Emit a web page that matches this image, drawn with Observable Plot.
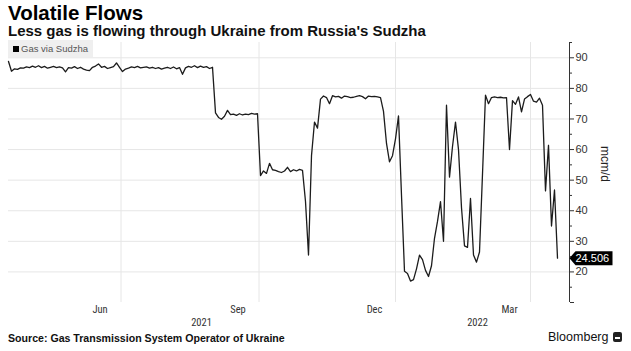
<!DOCTYPE html>
<html>
<head>
<meta charset="utf-8">
<script src="https://cdn.jsdelivr.net/npm/d3@7"></script>
<script src="https://cdn.jsdelivr.net/npm/@observablehq/plot@0.6"></script>
<style>
  body { margin: 0; background: #fff; font-family: "Liberation Sans", Arial, sans-serif; }
  #wrap { position: relative; width: 631px; height: 351px; overflow: hidden; background: #fff; }
  #title { position: absolute; left: 8px; top: 1px; font-weight: bold; font-size: 20.5px; color: #000; line-height: 23px; }
  #subtitle { position: absolute; left: 8px; top: 22px; font-weight: bold; font-size: 15px; color: #111; line-height: 17px; }
  #chart { position: absolute; left: 0; top: 40px; }
  #legend { position: absolute; left: 8px; top: 40px; height: 17px; background: #efefef; font-size: 9.5px; color: #555;
            padding: 0 5px 0 5px; display: flex; align-items: center; }
  #legend .sw { display: inline-block; width: 6px; height: 6px; background: #000; margin-right: 2px; }
  #unit { position: absolute; left: 598px; top: 146px; writing-mode: vertical-rl; font-size: 12px; color: #222; }
  #source { position: absolute; left: 8px; top: 332px; font-weight: bold; font-size: 10.6px; color: #111; }
  #brand { position: absolute; left: 548px; top: 330px; font-size: 12.5px; color: #111; display: flex; align-items: center; }
  #brand .ic { display: inline-block; width: 9px; height: 10px; background: #222; border-radius: 2px; margin-left: 5px; position: relative; }
  #brand .ic::after { content: ""; position: absolute; left: 2px; top: 5px; width: 5px; height: 2px; background: #fff; }
</style>
</head>
<body>
<div id="wrap">
  <div id="title">Volatile Flows</div>
  <div id="subtitle">Less gas is flowing through Ukraine from Russia's Sudzha</div>
  <div id="chart"></div>
  <div id="legend"><span class="sw"></span>Gas via Sudzha</div>
  <div id="unit">mcm/d</div>
  <div id="source">Source: Gas Transmission System Operator of Ukraine</div>
  <div id="brand">Bloomberg<span class="ic"></span></div>
</div>
<script>
// Series: Russian gas flow via Sudzha (mcm/d), one reading every 2 days from 2021-03-18
const seriesStart = "2021-03-18";
const stepDays = 2;
const values = [
  88.8, 85.6, 86.4, 86.2, 86.7, 86.6, 87.0, 86.8, 87.3, 86.9,
  87.4, 86.8, 87.2, 86.6, 86.9, 87.2, 86.8, 87.0, 86.7, 85.4,
  86.8, 86.6, 87.1, 86.5, 86.9, 86.3, 86.0, 85.8, 86.9, 87.3,
  88.0, 86.9, 87.2, 86.5, 86.8, 87.1, 88.3, 86.9, 85.5, 86.3,
  86.6, 87.0, 86.8, 87.2, 86.7, 86.9, 87.0, 86.6, 86.9, 86.5,
  86.8, 86.3, 86.6, 86.9, 86.5, 87.0, 86.4, 86.8, 84.6, 86.7,
  87.2, 86.9, 87.4, 86.8, 87.3, 86.9, 87.1, 86.5, 86.9, 72.0,
  70.5, 69.9, 70.9, 72.8, 71.4, 71.6, 71.2, 71.7, 71.3, 71.6,
  71.4, 71.8, 71.6, 71.7, 51.5, 53.0, 52.2, 55.5, 53.4, 53.2,
  52.8, 52.5, 53.0, 54.2, 52.8, 53.4, 53.0, 53.5, 53.2, 43.0,
  25.5, 58.0, 69.0, 67.0, 76.5, 77.5, 77.0, 75.0, 77.6, 77.2,
  77.4, 76.8, 77.5, 77.3, 77.0, 77.1, 77.4, 77.6, 77.3, 76.6,
  77.5, 77.3, 77.4, 77.2, 77.0, 72.5, 62.0, 56.0, 58.0, 63.5,
  71.0, 45.0, 20.2, 19.5, 17.0, 17.5, 21.0, 25.5, 24.0, 20.5,
  18.5, 22.0, 31.0, 36.5, 43.0, 30.0, 74.5, 51.0, 61.0, 69.0,
  60.0, 41.0, 28.5, 28.0, 44.0, 25.5, 23.2, 26.5, 52.0, 77.8,
  75.0, 77.0, 77.2, 77.0, 77.1, 76.9, 77.0, 60.0, 76.0, 74.8,
  77.2, 72.3, 76.5, 77.3, 78.0, 75.8, 75.5, 76.8, 74.5, 46.5,
  61.4, 35.0, 46.8, 24.506
];
const xDomain = ["2021-03-18", "2022-03-27"];
const monthTicks = ["2021-06-01", "2021-09-01", "2021-12-01", "2022-03-01"];
const monthLabels = ["Jun", "Sep", "Dec", "Mar"];
const yearLabels = ["2021", "2022"];
const yMajorTicks = [10, 20, 30, 40, 50, 60, 70, 80, 90];
const yMinorTicks = [15, 25, 35, 45, 55, 65, 75, 85, 95];
const yGridTicks = [20, 30, 40, 50, 60, 70, 80, 90];

const parse = d3.utcParse("%Y-%m-%d");
const start = parse(seriesStart);
const data = values.map((v, i) => ({ date: d3.utcDay.offset(start, stepDays * i), value: v }));
const xEnd = parse(xDomain[1]);
const last = data[data.length - 1];

// year label centred on each year's span of data
const yearData = yearLabels.map(y => {
  const pts = data.filter(d => d.date.getUTCFullYear() === +y);
  const a = pts[0].date, b = pts[pts.length - 1].date;
  return { label: y, date: new Date((+a + +b) / 2) };
});

const tagSymbol = {
  draw(ctx) {
    ctx.moveTo(0, 0);
    ctx.lineTo(6, -7);
    ctx.lineTo(43, -7);
    ctx.lineTo(43, 7);
    ctx.lineTo(6, 7);
    ctx.closePath();
  }
};

const axisFont = "'Liberation Sans Narrow', 'Roboto Condensed', Roboto, 'Liberation Sans', sans-serif";

const chart = Plot.plot({
  width: 631,
  height: 291,
  marginTop: 2,
  marginBottom: 29,
  marginLeft: 8,
  marginRight: 62,
  style: { background: "transparent", overflow: "visible" },
  x: { type: "utc", domain: [parse(xDomain[0]), xEnd], axis: null },
  y: { domain: [10, 95], axis: null },
  marks: [
    Plot.gridY(yGridTicks, { stroke: "#e6e6e6", strokeOpacity: 1 }),
    Plot.gridX(monthTicks.map(parse), { stroke: "#e6e6e6", strokeOpacity: 1 }),
    Plot.lineY(data, { x: "date", y: "value", stroke: "#1c1c1c", strokeWidth: 1.3 }),
    Plot.ruleX([xEnd], { stroke: "#333", strokeWidth: 1 }),
    Plot.axisY(yMajorTicks, { anchor: "right", label: null, tickSize: 4, tickPadding: 2, fontSize: 11,
      tickFormat: d => d === 10 ? "" : d, color: "#333", fontFamily: "'Liberation Sans', Arial, sans-serif" }),
    Plot.axisY(yMinorTicks, { anchor: "right", label: null, tickSize: 2, tickFormat: () => "", color: "#333" }),
    Plot.text(monthTicks.map(parse), { x: d => d, text: (d, i) => monthLabels[i], frameAnchor: "bottom",
      dy: 10, dx: -21, fontSize: 10.5, fill: "#333", fontFamily: axisFont }),
    Plot.text(yearData, { x: "date", text: "label", frameAnchor: "bottom",
      dy: 23, dx: -23, fontSize: 10.5, fill: "#333", fontFamily: axisFont }),
    Plot.dot([last], { x: () => xEnd, y: "value", symbol: tagSymbol, fill: "#000", stroke: null }),
    Plot.text([last], { x: () => xEnd, y: "value", text: d => d.value.toFixed(3), textAnchor: "start",
      dx: 6, fill: "#fff", fontSize: 11, fontFamily: "'Liberation Sans', Arial, sans-serif" })
  ]
});
document.getElementById("chart").appendChild(chart);
</script>
</body>
</html>
